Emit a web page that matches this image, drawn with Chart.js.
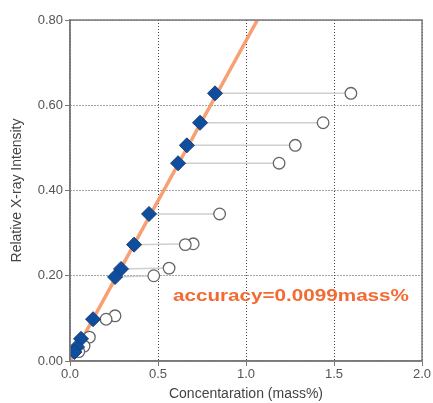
<!DOCTYPE html>
<html>
<head>
<meta charset="utf-8">
<script src="https://cdn.jsdelivr.net/npm/chart.js@4.4.1/dist/chart.umd.min.js"></script>
<style>
  html, body { margin: 0; padding: 0; background: #fff; }
  #wrap { width: 433px; height: 403px; }
</style>
</head>
<body>
<div id="wrap"><canvas id="grafico"></canvas></div>
<script>
// valores
const corrigidoX = [0.824, 0.739, 0.664, 0.614, 0.449, 0.364, 0.29, 0.256, 0.131, 0.0625, 0.04, 0.025];
const medidoX    = [1.596, 1.438, 1.28, 1.188, 0.85, 0.70, 0.563, 0.476, 0.256, 0.11, 0.08, 0.05];
const intensidade = [0.628, 0.559, 0.506, 0.464, 0.345, 0.273, 0.216, 0.197, 0.098, 0.052, 0.033, 0.021];
// a bolinha de cada par tem intensidade quase igual
const medidoY    = [0.628, 0.559, 0.506, 0.464, 0.345, 0.275, 0.218, 0.200, 0.106, 0.056, 0.035, 0.022];
const extraX = [0.655, 0.205];
const extraY = [0.273, 0.098];
const retaX = [0, 1.065];
const retaY = [0, 0.80];
const ticksX = [0, 0.5, 1.0, 1.5, 2.0];
const ticksY = [0, 0.2, 0.4, 0.6, 0.8];

const fonte = "'Liberation Sans', Arial, sans-serif";

// linhas cinzas ligando cada par
const ligacoes = corrigidoX.map((x, i) => ({
  type: "scatter",
  data: [{ x: x, y: intensidade[i] }, { x: medidoX[i], y: medidoY[i] }],
  showLine: true,
  borderColor: "#cfcfcf",
  borderWidth: 1.5,
  pointRadius: 0,
  order: 5
}));

const textoPlugin = {
  id: "texto",
  afterDatasetsDraw(chart) {
    const { ctx, scales, chartArea } = chart;
    ctx.save();
    // moldura da área do gráfico
    ctx.strokeStyle = "#7a7a7a";
    ctx.lineWidth = 1.5;
    ctx.strokeRect(chartArea.left, chartArea.top, chartArea.right - chartArea.left, chartArea.bottom - chartArea.top);
    ctx.font = "bold 16px " + fonte;
    ctx.fillStyle = "#f36a32";
    ctx.textBaseline = "middle";
    ctx.textAlign = "left";
    const txt = "accuracy=0.0099mass%";
    const x0 = scales.x.getPixelForValue(0.585);
    const y0 = scales.y.getPixelForValue(0.15);
    const largura = 236;
    const w = ctx.measureText(txt).width;
    ctx.translate(x0, y0);
    ctx.scale(largura / w, 1);
    ctx.fillText(txt, 0, 0);
    ctx.restore();
  }
};

new Chart(document.getElementById("grafico"), {
  type: "scatter",
  data: {
    datasets: [
      ...ligacoes,
      {
        data: retaX.map((x, i) => ({ x: x, y: retaY[i] })),
        showLine: true,
        borderColor: "rgba(246,150,100,0.9)",
        borderWidth: 3.5,
        pointRadius: 0,
        order: 4
      },
      {
        data: medidoX.map((x, i) => ({ x: x, y: medidoY[i] }))
          .concat(extraX.map((x, i) => ({ x: x, y: extraY[i] }))),
        pointStyle: "circle",
        pointRadius: 5.8,
        backgroundColor: "#fff",
        borderColor: "#666",
        borderWidth: 1.3,
        order: 3
      },
      {
        data: corrigidoX.map((x, i) => ({ x: x, y: intensidade[i] })),
        pointStyle: "rectRot",
        pointRadius: 7.5,
        backgroundColor: "#0f4e9e",
        borderColor: "#1c3f73",
        borderWidth: 1,
        order: 1
      }
    ]
  },
  options: {
    responsive: true,
    maintainAspectRatio: false,
    animation: false,
    layout: { padding: { top: 20, right: 11, left: 0, bottom: 0 } },
    plugins: { legend: { display: false }, tooltip: { enabled: false } },
    scales: {
      x: {
        min: 0, max: 2.0,
        afterBuildTicks: s => { s.ticks = ticksX.map(v => ({ value: v })); },
        afterFit: s => { s.height = 42; },
        ticks: { color: "#555", font: { family: fonte, size: 13 }, padding: 1, callback: v => v.toFixed(1) },
        grid: { color: "#444", lineWidth: 1, tickLength: 5, tickColor: "#777" },
        border: { color: "#7a7a7a", width: 1.5, dash: [1, 2] },
        title: { display: true, text: "Concentaration (mass%)", color: "#444", font: { family: fonte, size: 14 }, padding: { top: 1, bottom: 0 } }
      },
      y: {
        min: 0, max: 0.8,
        afterBuildTicks: s => { s.ticks = ticksY.map(v => ({ value: v })); },
        afterFit: s => { s.width = 70; },
        ticks: { color: "#555", font: { family: fonte, size: 13 }, padding: 2, callback: v => v.toFixed(2) },
        grid: { color: "#444", lineWidth: 1, tickLength: 5, tickColor: "#777" },
        border: { color: "#7a7a7a", width: 1.5, dash: [1, 2] },
        title: { display: true, text: "Relative X-ray Intensity", color: "#444", font: { family: fonte, size: 14 }, padding: { top: 9, bottom: 4 } }
      }
    }
  },
  plugins: [textoPlugin]
});
</script>
</body>
</html>
